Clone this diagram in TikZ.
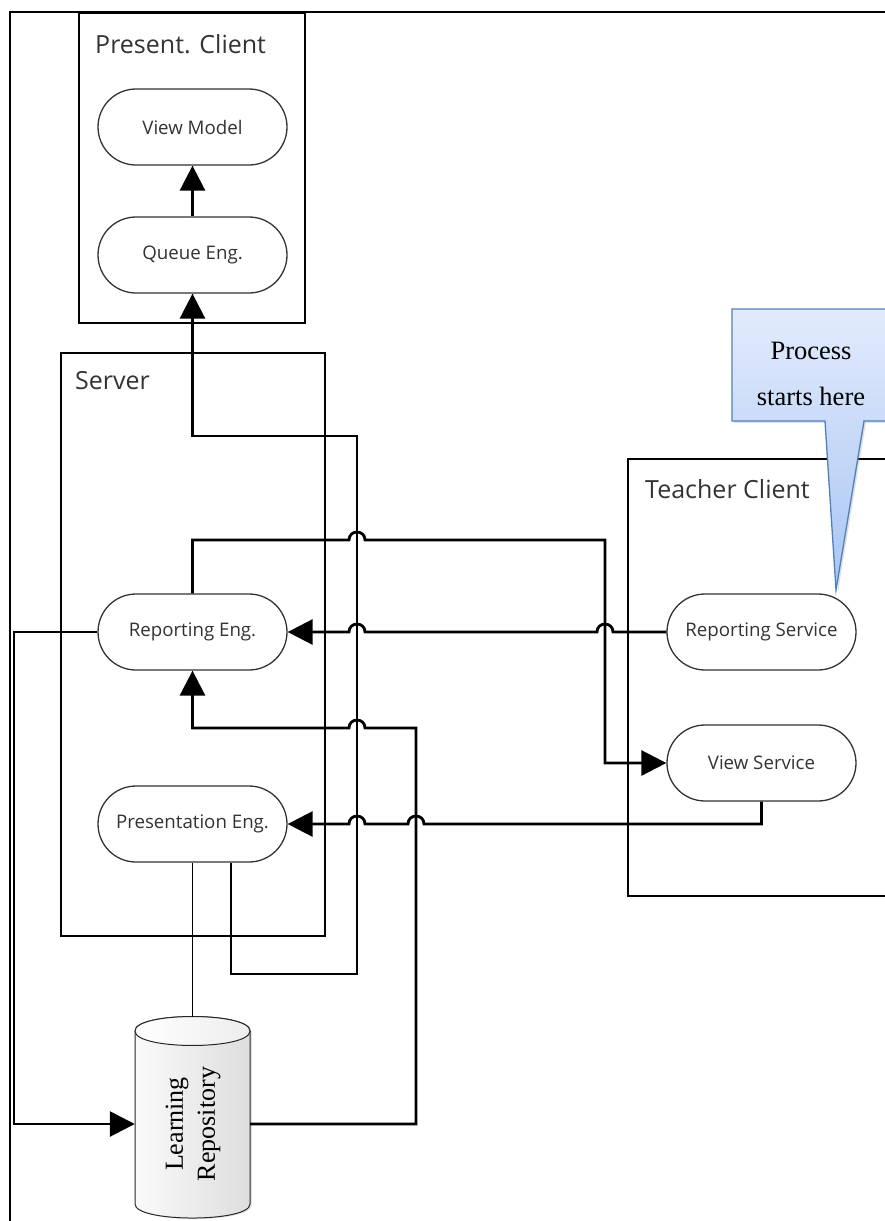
\documentclass[tikz,border=0pt]{standalone}
\usepackage{fontspec}
\setmainfont{Liberation Serif}
\newfontfamily\uifont{Open Sans}
\usetikzlibrary{arrows.meta,shapes.misc,shadows,calc}

\definecolor{calloutedge}{HTML}{4F81BD}
\definecolor{callouttop}{HTML}{E2EBFC}
\definecolor{calloutbot}{HTML}{A9C5F3}
\definecolor{inkgray}{HTML}{333333}

\tikzset{
  outerframe/.style={draw=black, line width=1.8pt},
  groupbox/.style={draw=black, line width=1.6pt},
  grouptitle/.style={anchor=west, inner sep=0pt, text=inkgray,
    font=\uifont\fontsize{25}{29}\selectfont},
  procnode/.style={rounded rectangle, draw=inkgray, line width=1.3pt,
    minimum width=189pt, minimum height=76pt, inner sep=0pt, fill=white,
    text=inkgray, font=\uifont\fontsize{18.7}{22}\selectfont},
  conn/.style={draw=black, line width=2.8pt},
  flow/.style={conn, -{Triangle[length=25pt,width=25pt]}},
  hopover/.style={out=90, in=90, looseness=1.7},
  drum/.style={draw=black!85, line width=1pt},
}

\begin{document}
\begin{tikzpicture}[x=1pt, y=-1pt]
\useasboundingbox (0,0) rectangle (885,1221);

% page frame
\draw[outerframe] (10,1221) -- (10,12) -- (885,12);

% group boxes
\draw[groupbox] (79,13) rectangle (305,323);
\draw[groupbox] (61,353) rectangle (325,936);
\draw[groupbox] (890,459) -- (628,459) -- (628,896) -- (890,896);

\node[grouptitle] (tpc) at (95,44) {Present. Client};
\node[grouptitle] (tsv) at (75,381) {Server};
\node[grouptitle] (ttc) at (645,489) {Teacher Client};

% engines and services
\node[procnode] (vm) at (192.5,127) {View Model};
\node[procnode] (qe) at (192.5,255) {Queue Eng.};
\node[procnode] (re) at (192.5,632) {Reporting Eng.};
\node[procnode] (pe) at (192.5,824) {Presentation Eng.};
\node[procnode] (rs) at (761.5,632) {Reporting Service};
\node[procnode] (vs) at (761.5,763) {View Service};

% repository drum: body, then the visible front rim of the top
\node[minimum width=115pt, minimum height=201pt, inner sep=0pt]
  (lr) at (192.5,1117.5) {};
\path[drum, left color=gray!4, right color=gray!26,
      drop shadow={shadow xshift=2pt, shadow yshift=-1pt, opacity=0.2}]
  (135,1031) -- (135,1204)
  .. controls (135,1222.7) and (250,1222.7) .. (250,1204)
  -- (250,1031)
  .. controls (250,1011.7) and (135,1011.7) .. cycle;
\path[drum, left color=white, right color=gray!14]
  (135,1031) .. controls (135,1011.7) and (250,1011.7) .. (250,1031)
  .. controls (250,1050.3) and (135,1050.3) .. cycle;
\node[rotate=90, align=center, inner sep=0pt,
      font=\fontsize{26}{32}\selectfont] (lrlabel) at (193,1124)
      {Learning\\Repository};

% connectors
\draw[flow] (qe.north) -- (vm.south);

\draw[flow] (rs.west) -- (613,632) to[hopover] (597,632)
  -- (365,632) to[hopover] (349,632) -- (re.east);

\draw[flow] (re.north) -- (192.5,540) -- (349,540) to[hopover] (365,540)
  -- (605,540) -- (605,763) -- (vs.west);

\draw[flow] ([xshift=38.5pt]pe.south) -- (231,974) -- (357,974)
  -- (357,436) -- (192.5,436) -- (qe.south);

\draw[flow] (lr.east |- lrlabel) -- (416,1124) -- (416,728)
  -- (365,728) to[hopover] (349,728) -- (192.5,728) -- (re.south);

\draw[flow] (vs.south) -- (761.5,824) -- (424,824) to[hopover] (408,824)
  -- (365,824) to[hopover] (349,824) -- (pe.east);

\draw[flow] (re.west) -- (14,632) -- (14,1124) -- (lr.west |- lrlabel);

\draw[black, line width=1.2pt] (pe.south) -- (lr.north);

% start marker
\path[draw=calloutedge, line width=1.3pt, top color=callouttop,
      bottom color=calloutbot,
      drop shadow={shadow xshift=2pt, shadow yshift=-2pt, opacity=0.25}]
  (732,309) -- (890,309) -- (890,421) -- (864,421) -- (836,590)
  -- (825,421) -- (732,421) -- cycle;
\node[align=center, inner sep=0pt, font=\fontsize{26.5}{46}\selectfont]
  (note) at (811,374) {Process\\starts here};
\end{tikzpicture}
\end{document}
